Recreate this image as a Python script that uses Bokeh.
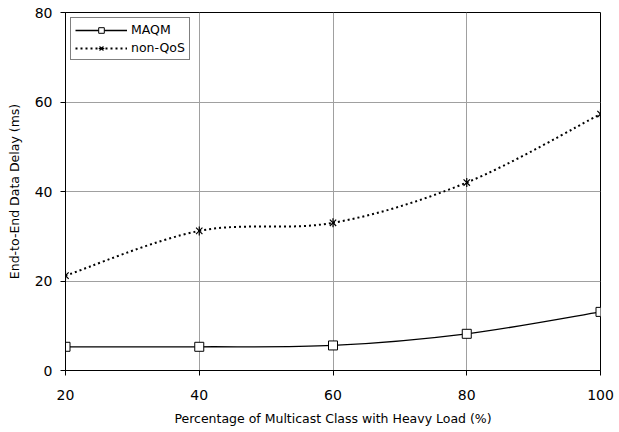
from bokeh.plotting import figure
from bokeh.models import Legend, LegendItem, ColumnDataSource, FixedTicker
from bokeh.embed import file_html
from bokeh.resources import INLINE

load_pct = [20, 40, 60, 80, 100]
maqm = [5.3, 5.3, 5.6, 8.2, 13.1]
non_qos = [21.2, 31.2, 33.0, 42.0, 57.3]
x_ticks = [20, 40, 60, 80, 100]
y_ticks = [0, 20, 40, 60, 80]

FONT = "DejaVu Sans"

p = figure(width=619, height=432, output_backend="svg", toolbar_location=None,
           x_range=(20, 100), y_range=(0, 80),
           min_border_left=65, min_border_right=19, min_border_top=12, min_border_bottom=62)
p.background_fill_color = "white"
p.border_fill_color = "white"
p.outline_line_color = "black"
p.outline_line_width = 1


def smooth_source(xs, ys):
    n = len(xs)
    d = dict(x0=[], y0=[], x1=[], y1=[], cx0=[], cy0=[], cx1=[], cy1=[])
    for i in range(n - 1):
        xm = xs[max(i - 1, 0)]; ym = ys[max(i - 1, 0)]
        xa, ya = xs[i], ys[i]
        xb, yb = xs[i + 1], ys[i + 1]
        xp = xs[min(i + 2, n - 1)]; yp = ys[min(i + 2, n - 1)]
        d["x0"].append(xa); d["y0"].append(ya)
        d["x1"].append(xb); d["y1"].append(yb)
        d["cx0"].append(xa + (xb - xm) / 6.0); d["cy0"].append(ya + (yb - ym) / 6.0)
        d["cx1"].append(xb - (xp - xa) / 6.0); d["cy1"].append(yb - (yp - ya) / 6.0)
    return ColumnDataSource(d)


p.bezier(x0="x0", y0="y0", x1="x1", y1="y1", cx0="cx0", cy0="cy0", cx1="cx1", cy1="cy1",
         source=smooth_source(load_pct, maqm), line_color="black", line_width=1.3)
p.bezier(x0="x0", y0="y0", x1="x1", y1="y1", cx0="cx0", cy0="cy0", cx1="cx1", cy1="cy1",
         source=smooth_source(load_pct, non_qos), line_color="black", line_width=2,
         line_dash="2 3")

p.scatter(load_pct, maqm, marker="square", size=9, fill_color="white", line_color="black",
          line_width=1)
p.scatter(load_pct, non_qos, marker="x", size=9, line_color="black", line_width=1.2)
p.scatter(load_pct, non_qos, marker="dash", size=9, angle=1.5708, line_color="black",
          line_width=1.2)

# legend proxies (placed outside the visible range)
off_x = [20, 100]
off_y = [-100, -100]
l1 = p.line(off_x, off_y, line_color="black", line_width=1.3)
m1 = p.scatter(off_x[:1], off_y[:1], marker="square", size=8, fill_color="white", line_color="black")
l2 = p.line(off_x, off_y, line_color="black", line_width=2, line_dash="2 3")
m2 = p.scatter(off_x[:1], off_y[:1], marker="x", size=8, line_color="black", line_width=1.2)
m2b = p.scatter(off_x[:1], off_y[:1], marker="dash", size=8, angle=1.5708, line_color="black",
                line_width=1.2)

legend = Legend(items=[LegendItem(label="MAQM", renderers=[l1, m1]),
                       LegendItem(label="non-QoS", renderers=[l2, m2, m2b])],
                location="top_left")
legend.border_line_color = "black"
legend.border_line_width = 1
legend.background_fill_color = "white"
legend.background_fill_alpha = 1
legend.label_text_font = FONT
legend.label_text_font_size = "12.5px"
legend.label_text_color = "black"
legend.glyph_width = 52
legend.glyph_height = 14
legend.label_height = 14
legend.spacing = 3
legend.padding = 4
legend.margin = 5
legend.label_standoff = 4
legend.label_text_baseline = "middle"
p.add_layout(legend)

for ax in (p.xaxis[0], p.yaxis[0]):
    ax.axis_line_color = "black"
    ax.axis_line_width = 1
    ax.major_tick_line_color = "black"
    ax.major_tick_in = 0
    ax.major_tick_out = 5
    ax.minor_tick_line_color = None
    ax.major_label_text_font = FONT
    ax.major_label_text_font_size = "14px"
    ax.major_label_text_color = "black"
    ax.axis_label_text_font = FONT
    ax.axis_label_text_font_size = "12.5px"
    ax.axis_label_text_font_style = "normal"
    ax.axis_label_text_color = "black"

p.xaxis.ticker = FixedTicker(ticks=x_ticks)
p.yaxis.ticker = FixedTicker(ticks=y_ticks)
p.xaxis.axis_label = "Percentage of Multicast Class with Heavy Load (%)"
p.yaxis.axis_label = "End-to-End Data Delay (ms)"
p.xaxis.major_label_standoff = 14
p.yaxis.major_label_standoff = 8
p.xaxis.axis_label_standoff = 8
p.yaxis.axis_label_standoff = 10

p.xgrid.grid_line_color = "#a0a0a0"
p.ygrid.grid_line_color = "#a0a0a0"
p.xgrid.ticker = FixedTicker(ticks=x_ticks)
p.ygrid.ticker = FixedTicker(ticks=y_ticks)

open("out.html", "w").write(file_html(p, INLINE))
